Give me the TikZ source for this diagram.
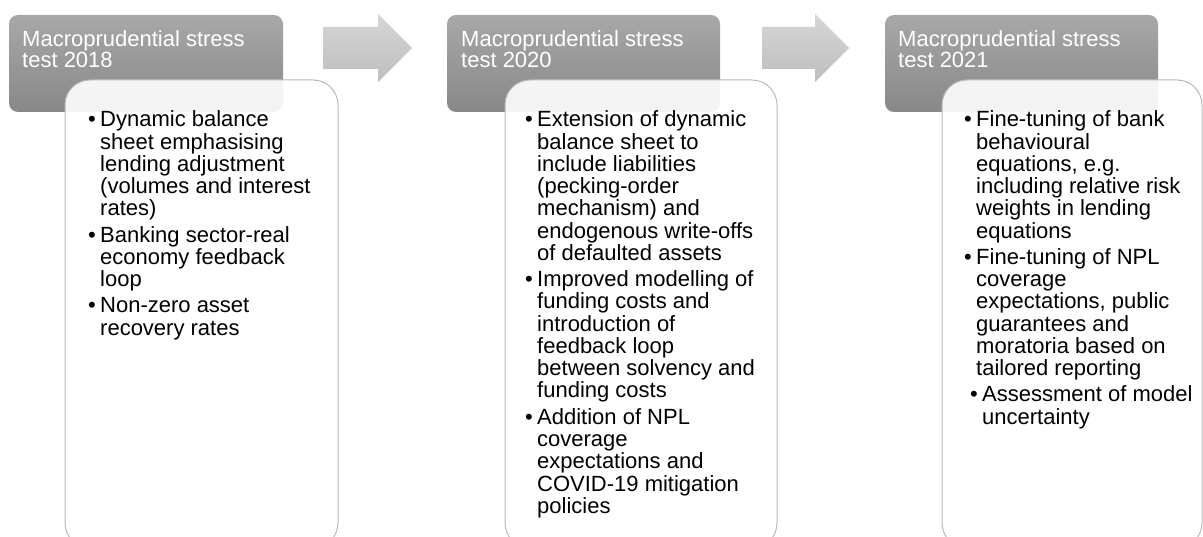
\documentclass[tikz,border=0pt]{standalone}
\usepackage{fontspec}
\setmainfont{Liberation Sans}
\definecolor{hdrtop}{RGB}{168,168,168}
\definecolor{hdrbot}{RGB}{136,136,136}
\definecolor{arrtop}{RGB}{214,214,214}
\definecolor{arrbot}{RGB}{190,190,190}
\definecolor{boxline}{RGB}{185,185,185}
\newcommand\mybitem[5]{%
  \node[bul] (#1b) at ({#2-12},#3) {•};
  \foreach \ln [count=\k] in {#5} {
    \node[bodyline] (#1l\k) at (#2,{#3+(\k-1)*#4}) {\ln};
  }%
}
\begin{document}
\begin{tikzpicture}[x=1pt,y=-1pt,
  hdrbox/.style={rounded corners=9pt, top color=hdrtop, bottom color=hdrbot, draw=none},
  bodybox/.style={rounded corners=25pt, draw=boxline, line width=1pt, fill=white, fill opacity=0.9},
  arrowshape/.style={top color=arrtop, bottom color=arrbot, draw=none},
  hdrline/.style={font=\fontsize{22}{22}\selectfont, text=white, anchor=base west, inner sep=0pt},
  bodyline/.style={font=\fontsize{22}{22}\selectfont, text=black, anchor=base west, inner sep=0pt},
  bul/.style={font=\fontsize{22}{22}\selectfont, text=black, anchor=base west, inner sep=0pt}]
\useasboundingbox (0,0) rectangle (1203,537);
\clip (0,0) rectangle (1203,537);
% header boxes
\path[hdrbox] (9,15) rectangle (283,112);
\path[hdrbox] (447,15) rectangle (720,112);
\path[hdrbox] (885,15) rectangle (1158,112);
% arrows
\path[arrowshape] (323,27) -- (378,27) -- (378,14) -- (412,48) -- (378,82) -- (378,69) -- (323,69) -- cycle;
\path[arrowshape] (762,27) -- (815,27) -- (815,14) -- (849,48) -- (815,82) -- (815,69) -- (762,69) -- cycle;
% body boxes
\path[bodybox] (65,80) rectangle (338,548);
\path[bodybox] (505,80) rectangle (777,548);
\path[bodybox] (942,80) rectangle (1202,548);
% header texts
\node[hdrline] (h1a) at (22,47) {Macroprudential stress};
\node[hdrline] (h1b) at (22,68) {test 2018};
\node[hdrline] (h2a) at (461,47) {Macroprudential stress};
\node[hdrline] (h2b) at (461,68) {test 2020};
\node[hdrline] (h3a) at (898,47) {Macroprudential stress};
\node[hdrline] (h3b) at (898,68) {test 2021};
% box 1
\mybitem{a1}{100}{127}{22.25}{{Dynamic balance},{sheet emphasising},{lending adjustment},{(volumes and interest},{rates)}}
\mybitem{a2}{100}{242.25}{22.25}{{Banking sector-real},{economy feedback},{loop}}
\mybitem{a3}{100}{313}{22.25}{{Non-zero asset},{recovery rates}}
% box 2
\mybitem{b1}{537}{127}{22.25}{{Extension of dynamic},{balance sheet to},{include liabilities},{(pecking-order},{mechanism) and},{endogenous write-offs},{of defaulted assets}}
\mybitem{b2}{537}{286.75}{22.25}{{Improved modelling of},{funding costs and},{introduction of},{feedback loop},{between solvency and},{funding costs}}
\mybitem{b3}{537}{424.25}{22.25}{{Addition of NPL},{coverage},{expectations and},{COVID-19 mitigation},{policies}}
% box 3
\mybitem{c1}{976}{127}{22.25}{{Fine-tuning of bank},{behavioural},{equations, e.g.},{including relative risk},{weights in lending},{equations}}
\mybitem{c2}{976}{264.5}{22.25}{{Fine-tuning of NPL},{coverage},{expectations, public},{guarantees and},{moratoria based on},{tailored reporting}}
\mybitem{c3}{982}{402}{22.25}{{Assessment of model},{uncertainty}}
\end{tikzpicture}
\end{document}
